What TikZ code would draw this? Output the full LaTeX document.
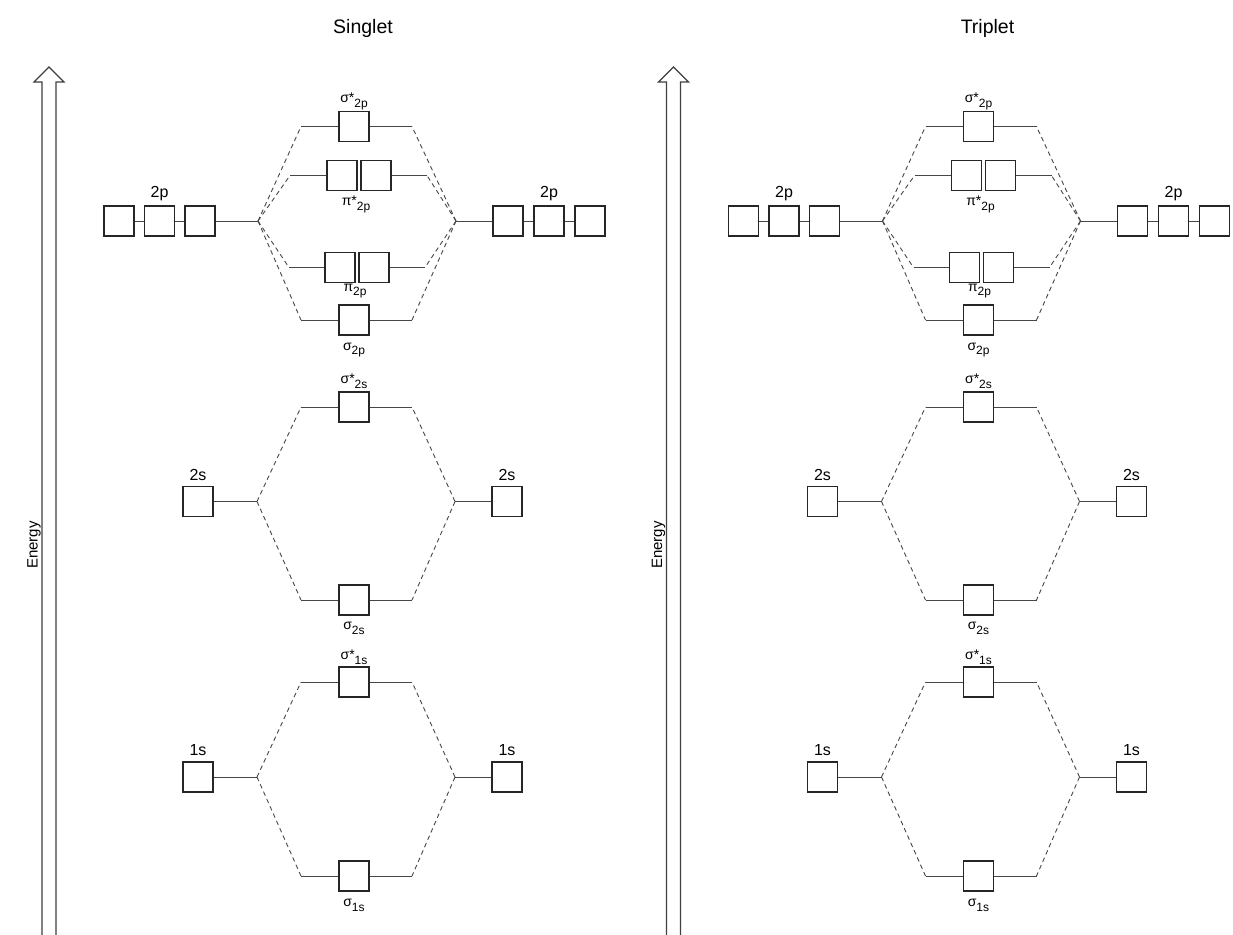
\documentclass[tikz,border=0pt]{standalone}
\usepackage{fontspec}
\setmainfont{Liberation Sans}
\newcommand{\lowsub}[1]{\raisebox{-0.35em}{\fontsize{12}{12}\selectfont #1}}
\tikzset{
  orb/.style={draw=black!85, line width=1.1pt, minimum width=30pt, minimum height=30pt, inner sep=0pt},
  lvl/.style={draw=black!72, line width=1pt},
  corr/.style={draw=black!72, line width=0.9pt, dash pattern=on 4.5pt off 3.5pt},
  aolab/.style={font=\fontsize{16}{16}\selectfont, inner sep=0pt},
  molab/.style={font=\fontsize{14}{14}\selectfont, inner sep=0pt},
  ttl/.style={font=\fontsize{19.5}{20}\selectfont, inner sep=0pt},
  axislab/.style={font=\fontsize{15}{15}\selectfont, inner sep=0pt, rotate=90},
  axisarrow/.style={draw=black!75, line width=1.1pt, fill=white, line join=miter}
}
% One complete correlation diagram (energy axis + 1s, 2s, 2p levels)
\newcommand{\mopanel}[3]{%
\begin{scope}[xshift=#2]
  \node[ttl] (#1title) at (363,28) {#3};
  % energy axis
  \draw[axisarrow] (42,940) -- (42,82) -- (34,82) -- (49,67) -- (64,82) -- (56,82) -- (56,940);
  \node[axislab] (#1energy) at (34,545) {Energy};
  % ---------- 2p block ----------
  \node[orb] (#1aL1) at (119,221) {};
  \node[orb] (#1aL2) at (159.5,221) {};
  \node[orb] (#1aL3) at (200,221) {};
  \node[aolab] (#1aLlab) at (159.5,194) {2p};
  \coordinate (#1hL2p) at (258,221);
  \draw[lvl] (#1aL1) -- (#1aL2) -- (#1aL3) -- (#1hL2p);
  \node[orb] (#1aR1) at (508,221) {};
  \node[orb] (#1aR2) at (549,221) {};
  \node[orb] (#1aR3) at (590,221) {};
  \node[aolab] (#1aRlab) at (549,194) {2p};
  \coordinate (#1hR2p) at (456,221);
  \draw[lvl] (#1hR2p) -- (#1aR1) -- (#1aR2) -- (#1aR3);
  % sigma*2p
  \node[orb] (#1ss2p) at (354,126.5) {};
  \coordinate (#1ss2pL) at (301,126.5);
  \coordinate (#1ss2pR) at (412,126.5);
  \draw[lvl] (#1ss2pL) -- (#1ss2p) -- (#1ss2pR);
  \node[molab] (#1ss2plab) at (354,101) {σ*\lowsub{2p}};
  % pi*2p
  \node[orb] (#1ps2pa) at (342,175.5) {};
  \node[orb] (#1ps2pb) at (376,175.5) {};
  \coordinate (#1ps2pL) at (290,175.5);
  \coordinate (#1ps2pR) at (427,175.5);
  \draw[lvl] (#1ps2pL) -- (#1ps2pa) (#1ps2pb) -- (#1ps2pR);
  \node[molab] (#1ps2plab) at (356,204) {π*\lowsub{2p}};
  % pi2p
  \node[orb] (#1p2pa) at (340,267.5) {};
  \node[orb] (#1p2pb) at (374,267.5) {};
  \coordinate (#1p2pL) at (289,267.5);
  \coordinate (#1p2pR) at (425,267.5);
  \draw[lvl] (#1p2pL) -- (#1p2pa) (#1p2pb) -- (#1p2pR);
  \node[molab] (#1p2plab) at (355,291) {π\lowsub{2p}};
  % sigma2p
  \node[orb] (#1s2p) at (354,320) {};
  \coordinate (#1s2pL) at (301,320);
  \coordinate (#1s2pR) at (412,320);
  \draw[lvl] (#1s2pL) -- (#1s2p) -- (#1s2pR);
  \node[molab] (#1s2plab) at (354,350) {σ\lowsub{2p}};
  \foreach \m in {ss2p,ps2p,p2p,s2p}{
    \draw[corr] (#1hL2p) -- (#1\m L);
    \draw[corr] (#1hR2p) -- (#1\m R);
  }
  % ---------- 2s block ----------
  \node[orb] (#1bL) at (198,501.5) {};
  \node[aolab] (#1bLlab) at (198,475) {2s};
  \coordinate (#1hL2s) at (257,501.5);
  \draw[lvl] (#1bL) -- (#1hL2s);
  \node[orb] (#1bR) at (507,501.5) {};
  \node[aolab] (#1bRlab) at (507,475) {2s};
  \coordinate (#1hR2s) at (455,501.5);
  \draw[lvl] (#1hR2s) -- (#1bR);
  \node[orb] (#1ss2s) at (354,407) {};
  \coordinate (#1ss2sL) at (301,407);
  \coordinate (#1ss2sR) at (412,407);
  \draw[lvl] (#1ss2sL) -- (#1ss2s) -- (#1ss2sR);
  \node[molab] (#1ss2slab) at (354,381) {σ*\lowsub{2s}};
  \node[orb] (#1s2s) at (354,600) {};
  \coordinate (#1s2sL) at (301,600);
  \coordinate (#1s2sR) at (412,600);
  \draw[lvl] (#1s2sL) -- (#1s2s) -- (#1s2sR);
  \node[molab] (#1s2slab) at (354,628) {σ\lowsub{2s}};
  \foreach \m in {ss2s,s2s}{
    \draw[corr] (#1hL2s) -- (#1\m L);
    \draw[corr] (#1hR2s) -- (#1\m R);
  }
  % ---------- 1s block ----------
  \node[orb] (#1cL) at (198,777) {};
  \node[aolab] (#1cLlab) at (198,750) {1s};
  \coordinate (#1hL1s) at (257,777);
  \draw[lvl] (#1cL) -- (#1hL1s);
  \node[orb] (#1cR) at (507,777) {};
  \node[aolab] (#1cRlab) at (507,750) {1s};
  \coordinate (#1hR1s) at (455,777);
  \draw[lvl] (#1hR1s) -- (#1cR);
  \node[orb] (#1ss1s) at (354,682) {};
  \coordinate (#1ss1sL) at (301,682);
  \coordinate (#1ss1sR) at (412,682);
  \draw[lvl] (#1ss1sL) -- (#1ss1s) -- (#1ss1sR);
  \node[molab] (#1ss1slab) at (354,657) {σ*\lowsub{1s}};
  \node[orb] (#1s1s) at (354,876) {};
  \coordinate (#1s1sL) at (301,876);
  \coordinate (#1s1sR) at (412,876);
  \draw[lvl] (#1s1sL) -- (#1s1s) -- (#1s1sR);
  \node[molab] (#1s1slab) at (354,905) {σ\lowsub{1s}};
  \foreach \m in {ss1s,s1s}{
    \draw[corr] (#1hL1s) -- (#1\m L);
    \draw[corr] (#1hR1s) -- (#1\m R);
  }
\end{scope}}
\begin{document}
\begin{tikzpicture}[x=1pt, y=-1pt]
  \path[use as bounding box, fill=white] (0,0) rectangle (1233,934);
  \begin{scope}
    \clip (0,0) rectangle (1233,934);
    \mopanel{S}{0pt}{Singlet}
    \mopanel{T}{624.5pt}{Triplet}
  \end{scope}
\end{tikzpicture}
\end{document}
